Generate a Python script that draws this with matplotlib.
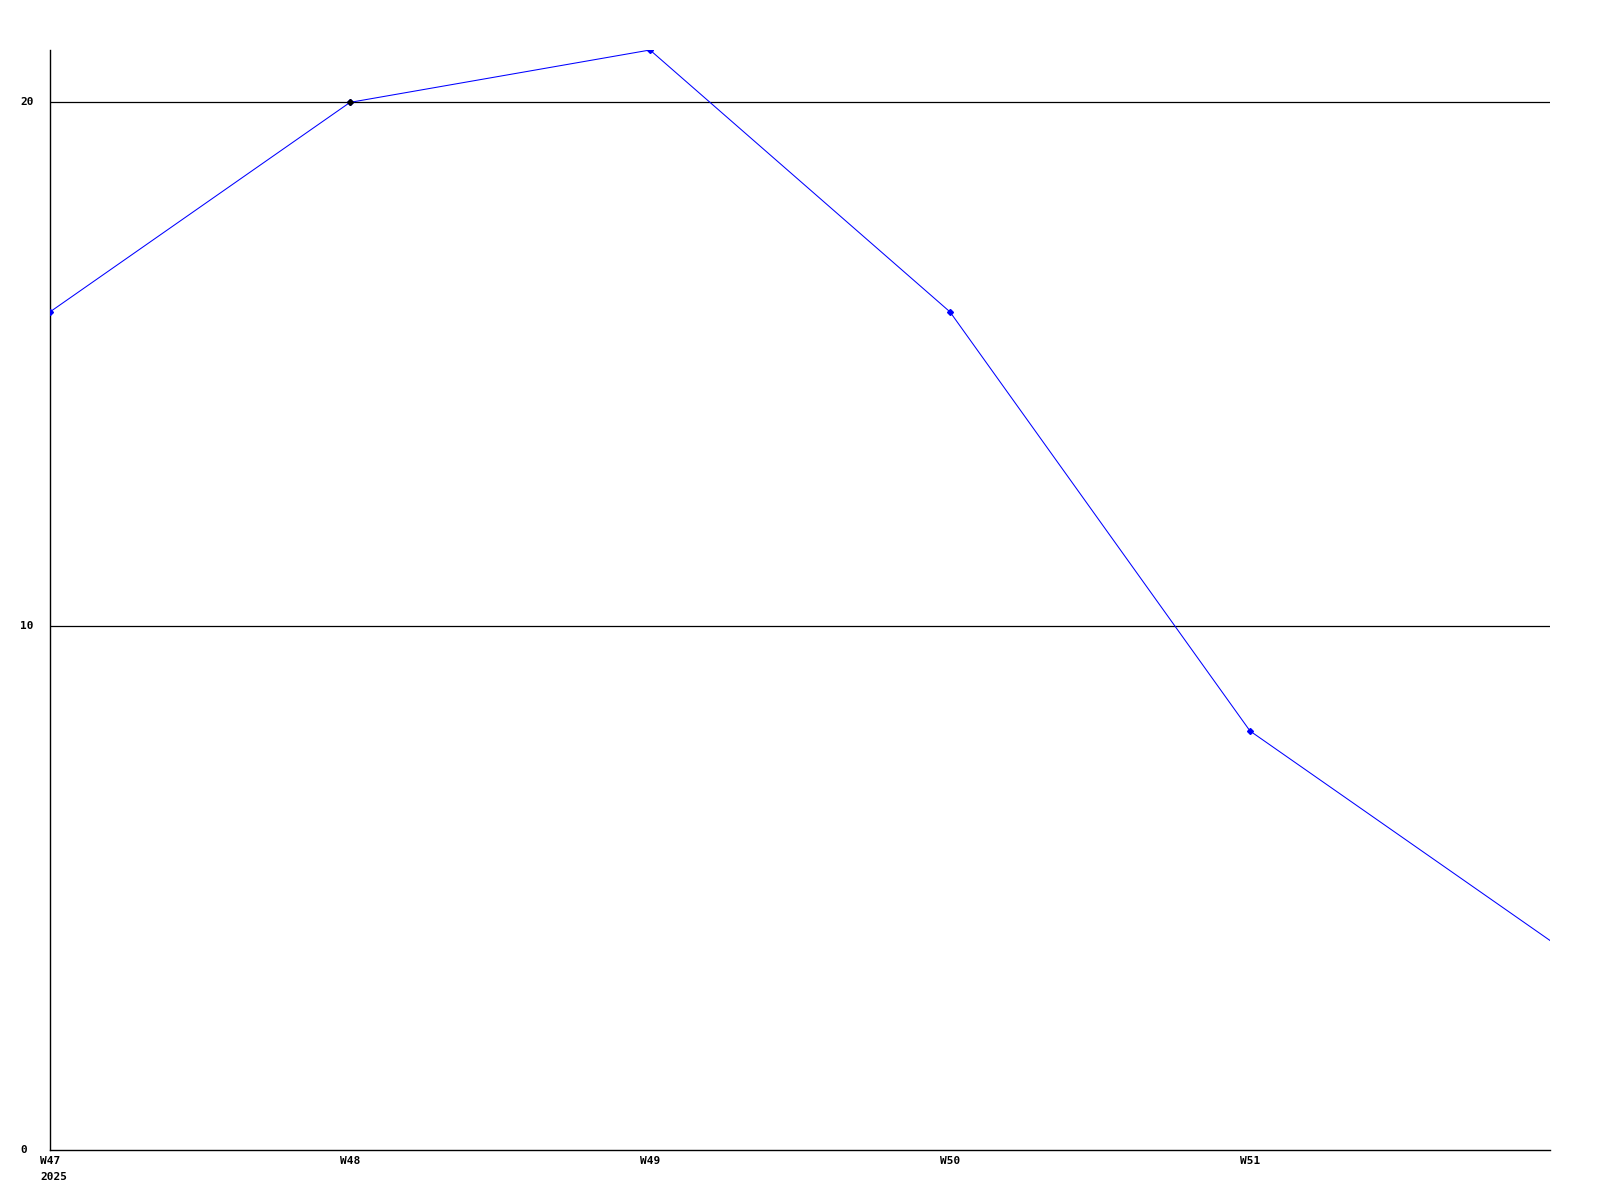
import matplotlib
matplotlib.use("Agg")
import matplotlib.pyplot as plt
import matplotlib.transforms as mtransforms

# weekly values (last point is W52, unlabeled)
weeks = [47, 48, 49, 50, 51, 52]
values = [16, 20, 21, 16, 8, 4]
week_labels = ["W47", "W48", "W49", "W50", "W51"]
year_label = "2025"
y_ticks = [0, 10, 20]

FONT = dict(family="DejaVu Sans Mono", fontweight="bold", fontsize=8)

fig = plt.figure(figsize=(16, 12), dpi=100, facecolor="white")
ax = fig.add_axes([50 / 1600, 50 / 1200, 1500 / 1600, 1100 / 1200])

ax.set_xlim(weeks[0], weeks[-1])
ax.set_ylim(0, max(values))

for yv in y_ticks[1:]:
    ax.axhline(yv, color="black", lw=0.9, zorder=1)

ax.plot(weeks, values, color="#0000ff", lw=0.75, zorder=3)
ax.plot(weeks[:-1], values[:-1], ls="none", marker="D", ms=3, color="#0000ff", zorder=4)
ax.plot(weeks[1], values[1], ls="none", marker="D", ms=3, color="black", zorder=5)

for s in ["top", "right"]:
    ax.spines[s].set_visible(False)
ax.spines["left"].set_linewidth(1)
ax.spines["bottom"].set_linewidth(1)
ax.set_xticks([])
ax.set_yticks([])

# y labels, left aligned at x=20px
ytrans = mtransforms.blended_transform_factory(fig.transFigure, ax.transData)
for yv in y_ticks:
    ax.text(20 / 1600, yv, str(yv), transform=ytrans, ha="left", va="center", **FONT)

# x labels start 10px left of their tick
off = mtransforms.ScaledTranslation(-10 / 100, -6 / 100, fig.dpi_scale_trans)
xtrans = mtransforms.blended_transform_factory(ax.transData, ax.transAxes) + off
for w, lab in zip(weeks, week_labels):
    ax.text(w, 0, lab, transform=xtrans, ha="left", va="top", **FONT)
off2 = mtransforms.ScaledTranslation(-10 / 100, -22 / 100, fig.dpi_scale_trans)
ax.text(weeks[0], 0, year_label, ha="left", va="top",
        transform=mtransforms.blended_transform_factory(ax.transData, ax.transAxes) + off2, **FONT)

fig.savefig("out.png", dpi=100, facecolor="white")
